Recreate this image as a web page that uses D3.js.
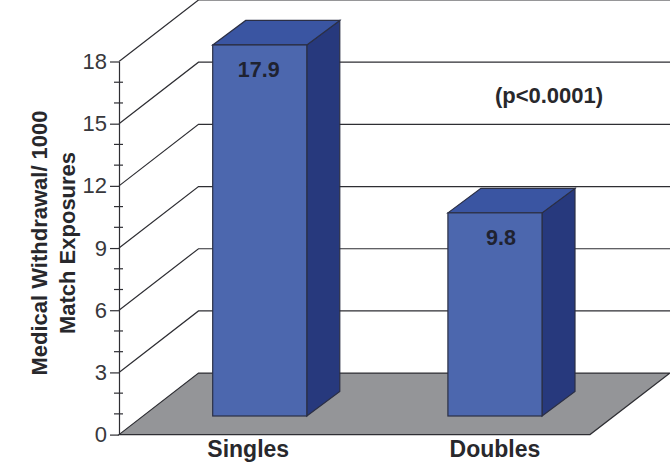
<!DOCTYPE html>
<html>
<head>
<meta charset="utf-8">
<script src="https://cdn.jsdelivr.net/npm/d3@7"></script>
<style>
  html, body { margin: 0; padding: 0; background: #fff; }
  svg { display: block; }
  text { font-family: "Liberation Sans", Arial, sans-serif; fill: #28282c; }
</style>
</head>
<body>
<div id="chart"></div>
<script>
const categories = ['Singles', 'Doubles'];
const values = [17.9, 9.8];
const valueLabels = ['17.9', '9.8'];
const majorTicks = [0, 3, 6, 9, 12, 15, 18];
const minorTicks = [1, 2, 4, 5, 7, 8, 10, 11, 13, 14, 16, 17];
const yTitleLines = ['Medical Withdrawal/ 1000', 'Match Exposures'];
const note = '(p<0.0001)';

const width = 670;
const height = 462;

// 3D offsets: floor depth, and how far the bars sit inside it
const depthX = 79.5;
const depthY = -61.5;
const barDepthX = 33;
const barDepthY = -24.5;
const barInset = 18.6;

const svg = d3.select('#chart')
  .append('svg')
  .attr('width', width)
  .attr('height', height);

const y = d3.scaleLinear().domain([0, 18]).range([434.6, 61.5]);
const x = d3.scaleBand().domain(categories).range([212.7, 542]).paddingInner(0.6);

const axisX = 119;
const lineColor = '#2e2e33';
const y0 = y(0);

// Floor
svg.append('polygon')
  .attr('points', [
    [axisX, y0],
    [axisX + depthX, y0 + depthY],
    [width, y0 + depthY],
    [590, y0]
  ].join(' '))
  .attr('fill', '#949598')
  .attr('stroke', lineColor)
  .attr('stroke-width', 1.2);

// Grid lines run up the side wall then along the back
svg.append('g')
  .selectAll('polyline')
  .data(majorTicks.filter(d => d > 0))
  .enter()
  .append('polyline')
  .attr('points', d => [
    [axisX, y(d)],
    [axisX + depthX, y(d) + depthY],
    [width, y(d) + depthY]
  ].join(' '))
  .attr('fill', 'none')
  .attr('stroke', lineColor)
  .attr('stroke-width', 1.2);

// Minor ticks cross the axis line
svg.append('g')
  .selectAll('line')
  .data(minorTicks)
  .enter()
  .append('line')
  .attr('x1', axisX - 5)
  .attr('x2', axisX + 4)
  .attr('y1', d => y(d))
  .attr('y2', d => y(d))
  .attr('stroke', lineColor)
  .attr('stroke-width', 1.2);

// Major ticks and labels
const yAxis = svg.append('g')
  .attr('transform', `translate(${axisX},0)`)
  .call(d3.axisLeft(y).tickValues(majorTicks).tickSize(9).tickSizeOuter(0).tickPadding(3));
yAxis.selectAll('path, line').attr('stroke', lineColor).attr('stroke-width', 1.2);
yAxis.selectAll('text')
  .attr('font-size', 22)
  .attr('font-family', '"Liberation Sans", Arial, sans-serif')
  .style('fill', '#38383c');

// Bars
const bars = svg.append('g')
  .selectAll('g')
  .data(categories.map((c, i) => ({ c, v: values[i], label: valueLabels[i] })))
  .enter()
  .append('g');

const barBottom = y0 - barInset;
const barTop = d => barBottom - (y0 - y(d.v));

// side face
bars.append('polygon')
  .attr('points', d => {
    const r = x(d.c) + x.bandwidth();
    return [
      [r, barTop(d)],
      [r + barDepthX, barTop(d) + barDepthY],
      [r + barDepthX, barBottom + barDepthY],
      [r, barBottom]
    ].join(' ');
  })
  .attr('fill', '#27397d')
  .attr('stroke', '#2b2f45')
  .attr('stroke-width', 1.2);

// top face
bars.append('polygon')
  .attr('points', d => {
    const l = x(d.c);
    const r = l + x.bandwidth();
    return [
      [l, barTop(d)],
      [l + barDepthX, barTop(d) + barDepthY],
      [r + barDepthX, barTop(d) + barDepthY],
      [r, barTop(d)]
    ].join(' ');
  })
  .attr('fill', '#3a55a2')
  .attr('stroke', '#2b2f45')
  .attr('stroke-width', 1.2);

// front face
bars.append('rect')
  .attr('x', d => x(d.c))
  .attr('y', d => barTop(d))
  .attr('width', x.bandwidth())
  .attr('height', d => barBottom - barTop(d))
  .attr('fill', '#4c67ae')
  .attr('stroke', '#2b2f45')
  .attr('stroke-width', 1.2);

// Value labels (not quite centred on the bars in the original)
const valueShift = { Singles: -1, Doubles: 6 };
bars.append('text')
  .attr('x', d => x(d.c) + x.bandwidth() / 2 + valueShift[d.c])
  .attr('y', d => barTop(d) + 32)
  .attr('text-anchor', 'middle')
  .attr('font-size', 21.5)
  .attr('font-weight', 'bold')
  .style('fill', '#1f2230')
  .text(d => d.label);

// Category labels (Singles sits left of its bar in the original)
const labelShift = { Singles: -11.5, Doubles: 0 };
svg.append('g')
  .selectAll('text')
  .data(categories)
  .enter()
  .append('text')
  .attr('x', d => x(d) + x.bandwidth() / 2 + labelShift[d])
  .attr('y', 456.5)
  .attr('text-anchor', 'middle')
  .attr('font-size', 23)
  .attr('font-weight', 'bold')
  .text(d => d);

// Y axis title
svg.append('g')
  .attr('transform', 'translate(47,243) rotate(-90)')
  .selectAll('text')
  .data(yTitleLines)
  .enter()
  .append('text')
  .attr('x', 0)
  .attr('y', (d, i) => i * 28)
  .attr('text-anchor', 'middle')
  .attr('font-size', 22)
  .attr('font-weight', 'bold')
  .text(d => d);

// Significance note
svg.append('text')
  .attr('x', 549)
  .attr('y', 103)
  .attr('text-anchor', 'middle')
  .attr('font-size', 22)
  .attr('font-weight', 'bold')
  .text(note);
</script>
</body>
</html>
